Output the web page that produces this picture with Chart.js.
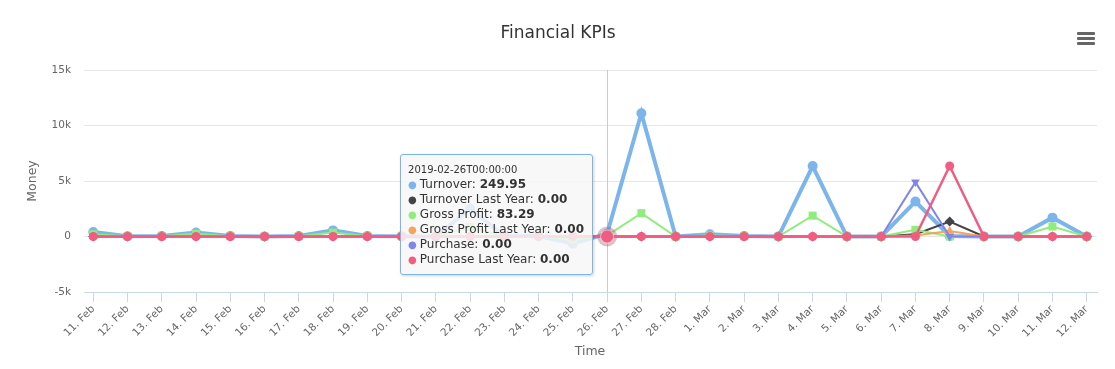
<!DOCTYPE html>
<html>
<head>
<meta charset="utf-8">
<title>Financial KPIs</title>
<script src="https://cdn.jsdelivr.net/npm/chart.js"></script>
<style>
  body { margin: 0; background: #fff; font-family: "DejaVu Sans", sans-serif; }
  #wrap { position: relative; width: 1115px; height: 369px; }
  #tip {
    position: absolute; top: 154px; left: 402px;
    background: rgba(247, 247, 247, 0.85);
    border: 1px solid #7cb5ec; border-radius: 3px;
    box-shadow: 1px 1px 3px rgba(0, 0, 0, 0.18);
    padding: 7px 8px 7px 7px; color: #333333; white-space: nowrap;
  }
  #tip .t { font-size: 10px; line-height: 15px; }
  #tip .r { font-size: 12px; line-height: 15px; }
  #tip .dot { font-size: 10px; margin-right: 3px; }
  #menu { position: absolute; left: 1077px; top: 32px; width: 18px; }
  #menu span { display: block; height: 3px; margin-bottom: 2px; background: #666; border-radius: 1px; }
</style>
</head>
<body>
<div id="wrap">
  <canvas id="kpiChart" width="1115" height="369"></canvas>
  <div id="tip"></div>
  <div id="menu"><span></span><span></span><span></span></div>
</div>
<script>
// Chart data
const dates = ['11. Feb', '12. Feb', '13. Feb', '14. Feb', '15. Feb', '16. Feb', '17. Feb', '18. Feb',
  '19. Feb', '20. Feb', '21. Feb', '22. Feb', '23. Feb', '24. Feb', '25. Feb', '26. Feb', '27. Feb',
  '28. Feb', '1. Mar', '2. Mar', '3. Mar', '4. Mar', '5. Mar', '6. Mar', '7. Mar', '8. Mar', '9. Mar',
  '10. Mar', '11. Mar', '12. Mar'];

const turnover =        [400, 30, 50, 350, 50, 0, 50, 550, 50, 30, 0, 2500, 50, 50, -650, 249.95, 11100, 0, 200, 50, 0, 6350, 0, 0, 3150, 50, 0, 0, 1700, 0];
const turnoverLastYear = [0, 0, 0, 0, 0, 0, 0, 0, 0, 0, 0, 0, 0, 0, 0, 0, 0, 0, 0, 0, 0, 0, 0, 0, 200, 1350, 0, 0, 0, 0];
const grossProfit =     [200, 20, 30, 250, 30, 0, 30, 350, 30, 20, 0, 850, 30, 30, -250, 83.29, 2100, 0, 100, 30, 0, 1880, 0, 0, 600, 0, 0, 0, 900, 0];
const grossProfitLastYear = [0, 0, 0, 0, 0, 0, 0, 0, 0, 0, 0, 0, 0, 0, 0, 0, 0, 0, 0, 0, 0, 0, 0, 0, 80, 500, 0, 0, 0, 0];
const purchase =        [0, 0, 0, 0, 0, 0, 0, 0, 0, 0, 0, 0, 0, 0, 0, 0, 0, 0, 0, 0, 0, 0, 0, 0, 4900, 0, 0, 0, 0, 0];
const purchaseLastYear = [0, 0, 0, 0, 0, 0, 0, 0, 0, 0, 0, 0, 0, 0, 0, 0, 0, 0, 0, 0, 0, 0, 0, 0, 0, 6350, 0, 0, 0, 0];

const yTicks = [-5000, 0, 5000, 10000, 15000];
const hoverIndex = 15;
const hoverTitle = '2019-02-26T00:00:00';

const series = [
  { label: 'Turnover', values: turnover, color: '#7cb5ec', width: 4, style: 'circle', radius: 5 },
  { label: 'Turnover Last Year', values: turnoverLastYear, color: '#434348', width: 2, style: 'rectRot', radius: 5 },
  { label: 'Gross Profit', values: grossProfit, color: '#90ed7d', width: 2, style: 'rect', radius: 5.7 },
  { label: 'Gross Profit Last Year', values: grossProfitLastYear, color: '#f7a35c', width: 2, style: 'triangle', radius: 5 },
  { label: 'Purchase', values: purchase, color: '#8085e9', width: 2, style: 'triangle', radius: 5, rotation: 180 },
  { label: 'Purchase Last Year', values: purchaseLastYear, color: '#f15c80', width: 2.5, style: 'circle', radius: 4.5 }
];

const font = '"DejaVu Sans", sans-serif';

// titles, crosshair and hover halo
const decor = {
  id: 'decor',
  beforeDatasetsDraw(chart) {
    const { ctx, chartArea } = chart;
    const x = Math.round(chart.scales.x.getPixelForValue(hoverIndex)) + 0.5;
    ctx.save();
    ctx.strokeStyle = '#cccccc';
    ctx.lineWidth = 1;
    ctx.beginPath();
    ctx.moveTo(x, chartArea.top);
    ctx.lineTo(x, chartArea.bottom);
    ctx.stroke();
    ctx.restore();
  },
  beforeDatasetDraw(chart, args) {
    if (args.index !== series.length - 1) return;
    const { ctx } = chart;
    const x = chart.scales.x.getPixelForValue(hoverIndex);
    const y = chart.scales.y.getPixelForValue(purchaseLastYear[hoverIndex]);
    ctx.save();
    ctx.fillStyle = 'rgba(160, 95, 115, 0.38)';
    ctx.beginPath();
    ctx.arc(x, y, 10, 0, Math.PI * 2);
    ctx.fill();
    ctx.restore();
  },
  afterDraw(chart) {
    const { ctx } = chart;
    ctx.save();
    ctx.textAlign = 'center';
    ctx.textBaseline = 'middle';
    ctx.fillStyle = '#333333';
    ctx.font = '17px ' + font;
    ctx.fillText('Financial KPIs', 558, 34);
    ctx.fillStyle = '#666666';
    ctx.font = '12.5px ' + font;
    ctx.fillText('Time', 590, 352);
    ctx.translate(33, 181);
    ctx.rotate(-Math.PI / 2);
    ctx.fillText('Money', 0, 0);
    ctx.restore();
  }
};

const datasets = series.map((s, n) => ({
  label: s.label,
  data: s.values.map((v, i) => ({ x: i, y: v })),
  borderColor: s.color,
  backgroundColor: s.color,
  borderWidth: s.width,
  pointStyle: s.style,
  pointRotation: s.rotation || 0,
  pointRadius: ctx => (n === series.length - 1 && ctx.dataIndex === hoverIndex) ? 6.5 : s.radius,
  pointBorderWidth: ctx => (n === series.length - 1 && ctx.dataIndex === hoverIndex) ? 1 : 0,
  pointBorderColor: ctx => (n === series.length - 1 && ctx.dataIndex === hoverIndex) ? 'rgba(255,255,255,0.5)' : s.color,
  pointBackgroundColor: s.color,
  tension: 0,
  order: series.length - n
}));

const chart = new Chart(document.getElementById('kpiChart'), {
  type: 'line',
  data: { datasets: datasets },
  options: {
    responsive: false,
    devicePixelRatio: 1,
    animation: false,
    events: [],
    layout: { padding: { top: 70, right: 18, left: 0, bottom: 0 } },
    plugins: {
      legend: { display: false },
      tooltip: { enabled: false },
      title: { display: false }
    },
    scales: {
      x: {
        type: 'linear',
        min: -0.27,
        max: 29.3,
        afterBuildTicks: scale => { scale.ticks = dates.map((d, i) => ({ value: i })); },
        afterFit: scale => { scale.height = 77; },
        grid: { display: true, drawOnChartArea: false, drawTicks: true, tickLength: 10, color: '#ccd6eb' },
        border: { display: true, color: '#ccd6eb' },
        ticks: {
          autoSkip: false,
          minRotation: 45,
          maxRotation: 45,
          padding: 1,
          color: '#666666',
          font: { family: font, size: 10.5 },
          callback: v => dates[v]
        }
      },
      y: {
        min: -5000,
        max: 15000,
        afterBuildTicks: scale => { scale.ticks = yTicks.map(v => ({ value: v })); },
        afterFit: scale => { scale.width = 84; },
        grid: { color: '#e6e6e6', drawTicks: false },
        border: { display: false },
        ticks: {
          padding: 13,
          color: '#666666',
          font: { family: font, size: 10.5 },
          callback: v => v === 0 ? '0' : (v / 1000) + 'k'
        }
      }
    }
  },
  plugins: [decor]
});

// shared tooltip for the hovered day
const tip = document.getElementById('tip');
let html = '<div class="t">' + hoverTitle + '</div>';
series.forEach(s => {
  html += '<div class="r"><span class="dot" style="color:' + s.color + '">\u25CF</span>' +
    s.label + ': <b>' + s.values[hoverIndex].toFixed(2) + '</b></div>';
});
tip.innerHTML = html;
const px = chart.scales.x.getPixelForValue(hoverIndex);
tip.style.left = (px - 14 - tip.offsetWidth) + 'px';
</script>
</body>
</html>
